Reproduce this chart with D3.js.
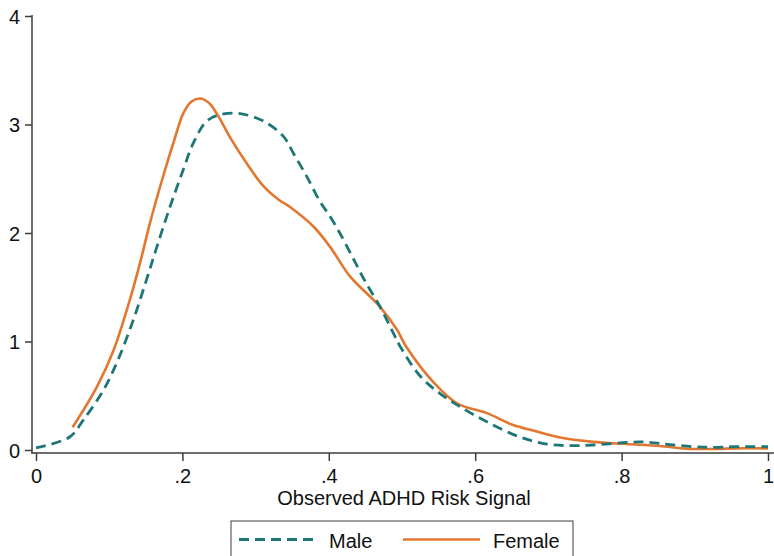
<!DOCTYPE html>
<html>
<head>
<meta charset="utf-8">
<script src="https://cdn.jsdelivr.net/npm/d3@7"></script>
<style>
  body { margin: 0; background: #fff; }
  svg { display: block; font-family: "Liberation Sans", Arial, sans-serif; }
</style>
</head>
<body>
<div id="chart"></div>
<script>
// kernel density estimates
var maleX = [0, 0.046, 0.065, 0.092, 0.112, 0.133, 0.151, 0.165, 0.183, 0.201, 0.215, 0.233, 0.251, 0.279,
  0.311, 0.338, 0.352, 0.370, 0.388, 0.402, 0.415, 0.433, 0.450, 0.470, 0.488, 0.497, 0.525, 0.552, 0.579,
  0.616, 0.661, 0.698, 0.730, 0.761, 0.807, 0.830, 0.852, 0.898, 0.925, 0.953, 1.0];
var maleY = [0.02, 0.12, 0.28, 0.55, 0.83, 1.20, 1.57, 1.87, 2.24, 2.58, 2.83, 3.03, 3.09, 3.10,
  3.03, 2.89, 2.73, 2.52, 2.29, 2.15, 2.00, 1.77, 1.55, 1.32, 1.08, 0.96, 0.68, 0.52, 0.40,
  0.26, 0.12, 0.055, 0.04, 0.046, 0.07, 0.074, 0.06, 0.03, 0.025, 0.03, 0.03];

var femaleX = [0.050, 0.083, 0.106, 0.128, 0.142, 0.156, 0.174, 0.190, 0.201, 0.212, 0.224, 0.236, 0.247, 0.267,
  0.288, 0.311, 0.333, 0.347, 0.379, 0.402, 0.429, 0.470, 0.493, 0.506, 0.545, 0.575, 0.616, 0.652, 0.679,
  0.720, 0.761, 0.807, 0.852, 0.889, 0.930, 0.957, 1.0];
var femaleY = [0.21, 0.58, 0.92, 1.38, 1.72, 2.10, 2.53, 2.88, 3.10, 3.21, 3.24, 3.20, 3.10, 2.86,
  2.64, 2.43, 2.30, 2.24, 2.06, 1.87, 1.60, 1.32, 1.11, 0.95, 0.61, 0.43, 0.34, 0.23, 0.18,
  0.11, 0.075, 0.055, 0.037, 0.012, 0.01, 0.015, 0.015];

var xTicks = [0, 0.2, 0.4, 0.6, 0.8, 1];
var xTickLabels = ["0", ".2", ".4", ".6", ".8", "1"];
var yTicks = [0, 1, 2, 3, 4];
var seriesNames = ["Male", "Female"];

var width = 774, height = 556;
var axisColor = "#3c3c3c";
var maleColor = "#1f7677";
var femaleColor = "#e3772f";

var svg = d3.select("#chart").append("svg")
    .attr("width", width)
    .attr("height", height);

svg.append("rect").attr("width", width).attr("height", height).attr("fill", "#fff");

var x = d3.scaleLinear().domain([0, 1]).range([36, 768]);
var y = d3.scaleLinear().domain([0, 4]).range([450, 16]);

// y axis
var yAxis = svg.append("g")
    .attr("transform", "translate(32,0)")
    .call(d3.axisLeft(y).tickValues(yTicks).tickFormat(d3.format("d"))
      .tickSize(7).tickPadding(5).tickSizeOuter(0));
yAxis.select(".domain").remove();
yAxis.append("line").attr("x1", 0).attr("x2", 0).attr("y1", 15).attr("y2", 453.5)
    .attr("stroke", axisColor).attr("stroke-width", 1.5);

// x axis
var xAxis = svg.append("g")
    .attr("transform", "translate(0,453)")
    .call(d3.axisBottom(x).tickValues(xTicks).tickFormat(function(d, i) { return xTickLabels[i]; })
      .tickSize(8).tickPadding(8).tickSizeOuter(0));
xAxis.select(".domain").remove();
xAxis.append("line").attr("x1", 31.25).attr("x2", width).attr("y1", 0).attr("y2", 0)
    .attr("stroke", axisColor).attr("stroke-width", 1.5);

svg.selectAll(".tick line").attr("stroke", axisColor).attr("stroke-width", 1.5);
svg.selectAll(".tick text").attr("fill", "#111").style("font-size", "20px");
yAxis.selectAll(".tick text").attr("dy", "0.35em");

svg.append("text")
    .attr("x", (x(0) + x(1)) / 2 + 2)
    .attr("y", 505)
    .attr("text-anchor", "middle")
    .attr("fill", "#111")
    .style("font-size", "20px")
    .text("Observed ADHD Risk Signal");

var line = d3.line()
    .x(function(d) { return x(d[0]); })
    .y(function(d) { return y(d[1]); })
    .curve(d3.curveCatmullRom.alpha(0.5));

svg.append("path")
    .datum(femaleX.map(function(v, i) { return [v, femaleY[i]]; }))
    .attr("d", line)
    .attr("fill", "none")
    .attr("stroke", femaleColor)
    .attr("stroke-width", 2.6);

svg.append("path")
    .datum(maleX.map(function(v, i) { return [v, maleY[i]]; }))
    .attr("d", line)
    .attr("fill", "none")
    .attr("stroke", maleColor)
    .attr("stroke-width", 2.8)
    .attr("stroke-dasharray", "10,6");

// legend
var legend = svg.append("g");
legend.append("rect")
    .attr("x", 231).attr("y", 521).attr("width", 342).attr("height", 45)
    .attr("fill", "#fff").attr("stroke", axisColor).attr("stroke-width", 1);

legend.append("line")
    .attr("x1", 239).attr("x2", 317).attr("y1", 539.5).attr("y2", 539.5)
    .attr("stroke", maleColor).attr("stroke-width", 2.8).attr("stroke-dasharray", "10,6");
legend.append("line")
    .attr("x1", 403).attr("x2", 480).attr("y1", 539.5).attr("y2", 539.5)
    .attr("stroke", femaleColor).attr("stroke-width", 2.6);

legend.selectAll("text.lab")
    .data(seriesNames)
    .enter().append("text")
    .attr("class", "lab")
    .attr("x", function(d, i) { return i === 0 ? 329 : 493; })
    .attr("y", 548)
    .attr("fill", "#111")
    .style("font-size", "20px")
    .text(function(d) { return d; });
</script>
</body>
</html>
